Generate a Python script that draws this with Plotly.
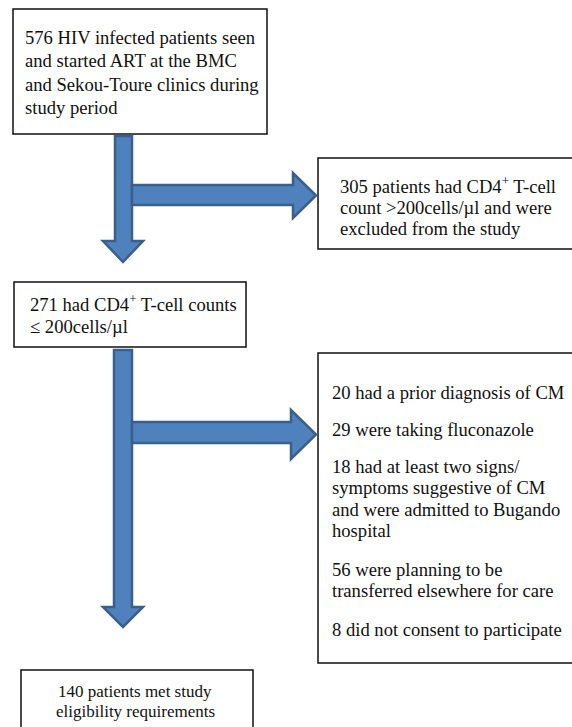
import plotly.graph_objects as go

# ---- content (text of the flowchart) ----
box1_lines = ["576 HIV infected patients seen",
              "and started ART at the BMC",
              "and Sekou-Toure clinics during",
              "study period"]
box2_lines = ["305 patients had CD4<sup>+</sup> T-cell",
              "count >200cells/µl and were",
              "excluded from the study"]
box3_lines = ["271 had CD4<sup>+</sup> T-cell counts",
              "≤ 200cells/µl"]
box4_paragraphs = [["20 had a prior diagnosis of CM"],
                   ["29 were taking fluconazole"],
                   ["18 had at least two signs/",
                    "symptoms suggestive of CM",
                    "and were admitted to Bugando",
                    "hospital"],
                   ["56 were planning to be",
                    "transferred elsewhere for care"],
                   ["8 did not consent to participate"]]
box5_lines = ["140 patients met study",
              "eligibility requirements"]

# ---- layout geometry (pixel coordinates, y downward) ----
W, H = 572, 727
boxes = {
    "b1": (13, 9, 267, 134),
    "b2": (318, 158, 590, 249),
    "b3": (14, 282, 246, 347),
    "b4": (318, 353, 590, 663),
    "b5": (21, 670, 253, 760),
}
FONT = "'Liberation Serif', Tinos, 'Times New Roman', Times, 'DejaVu Serif', serif"
FILL = "#4F81BD"
EDGE = "#3A5F8C"

fig = go.Figure()
fig.add_trace(go.Scatter(x=[0, W], y=[0, H], mode="markers",
                         marker=dict(opacity=0), hoverinfo="skip", showlegend=False))

shapes = []
for k, (x0, y0, x1, y1) in boxes.items():
    shapes.append(dict(type="rect", x0=x0, y0=y0, x1=x1, y1=y1, xref="x", yref="y",
                       line=dict(color="#111111", width=1.5), fillcolor="white", layer="below"))


def down_arrow(xl, xr, ytop, yhead, hl, hr, ytip):
    xm = (hl + hr) / 2
    return (f"M{xl},{ytop} L{xr},{ytop} L{xr},{yhead} L{hr},{yhead} L{xm},{ytip} "
            f"L{hl},{yhead} L{xl},{yhead} Z")


def right_arrow(x0, yt, yb, xhead, ht, hb, xtip):
    ym = (ht + hb) / 2
    return (f"M{x0},{yt} L{xhead},{yt} L{xhead},{ht} L{xtip},{ym} L{xhead},{hb} "
            f"L{xhead},{yb} L{x0},{yb} Z")


arrow_paths = [
    down_arrow(115, 132, 136, 241, 103, 143, 262),
    right_arrow(132, 185, 205, 293, 173, 218, 316),
    down_arrow(114, 132, 350, 607, 103, 143, 627),
    right_arrow(132, 422, 443, 291, 410, 459, 316),
]
for p in arrow_paths:
    shapes.append(dict(type="path", path=p, xref="x", yref="y",
                       fillcolor=FILL, line=dict(color=EDGE, width=2.5), layer="above"))

ann = []


def add_lines(lines, x, ys, size=18.6, anchor="left"):
    for t, y in zip(lines, ys):
        ann.append(dict(x=x, y=y, xref="x", yref="y", text=t, showarrow=False,
                        xanchor=anchor, yanchor="middle",
                        font=dict(family=FONT, size=size, color="#111")))


add_lines(box1_lines, 22.5, [37, 60.5, 84, 107.5])
add_lines(box2_lines, 337.5, [185, 207, 228.5])
add_lines(box3_lines, 27.5, [303, 326])
p_y = [[392], [429], [466, 487.5, 509, 530.5], [569, 590.5], [629]]
for para, ys in zip(box4_paragraphs, p_y):
    add_lines(para, 329.5, ys)
add_lines(box5_lines, 135, [691, 711], size=17, anchor="center")

fig.update_layout(
    width=W, height=H, margin=dict(l=0, r=0, t=0, b=0),
    plot_bgcolor="white", paper_bgcolor="white",
    font=dict(family=FONT),
    xaxis=dict(range=[0, W], visible=False, fixedrange=True),
    yaxis=dict(range=[H, 0], visible=False, fixedrange=True),
    shapes=shapes, annotations=ann, showlegend=False,
)
fig.write_html("out.html", config={"displayModeBar": False},
               post_script="document.body.style.margin='0';"
                           "document.documentElement.style.overflow='hidden';")
